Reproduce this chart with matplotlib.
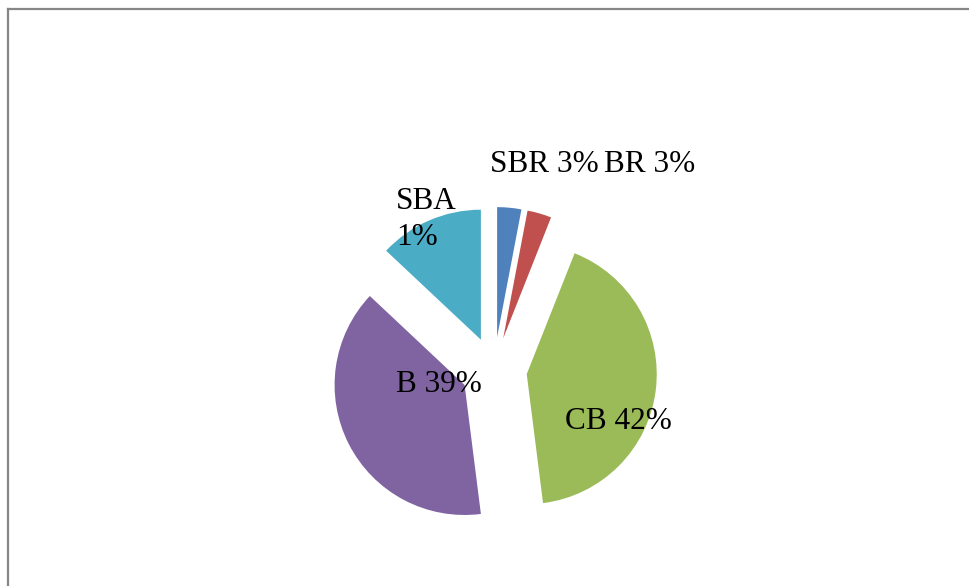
import matplotlib.pyplot as plt
from matplotlib.lines import Line2D

# --------------------
# Data
# --------------------
names = ["SBR", "BR", "CB", "B", "SBA"]
values = [3, 3, 42, 39, 13]
pct_labels = ["3%", "3%", "42%", "39%", "1%"]
colors = ["#4F81BD", "#C0504D", "#9BBB59", "#8064A2", "#4BACC6"]

W, H = 970, 586

fig = plt.figure(figsize=(W / 100, H / 100), dpi=100)
ax = fig.add_axes([0, 0, 1, 1])

# pie in pixel-like data coords (y measured from bottom)
# note: explode is an absolute offset in data units here
cx, cy, r = 494, H - 370, 130
ax.pie(values, colors=colors, startangle=90, counterclock=False,
       explode=[33] * len(values), center=(cx, cy), radius=r,
       wedgeprops=dict(linewidth=0))

ax.set_xlim(0, W)
ax.set_ylim(0, H)
ax.set_aspect("equal")
ax.axis("off")

# data labels (left x, baseline y in image pixels)
font = dict(family="Liberation Serif", fontsize=22.5, color="black",
            ha="left", va="baseline")
label_pos = {
    "SBR": (490, 172),
    "BR": (604, 172),
    "CB": (565, 429),
    "B": (396, 392),
}
for name, pct in zip(names, pct_labels):
    if name in label_pos:
        x, y = label_pos[name]
        ax.text(x, H - y, f"{name} {pct}", **font)
# SBA label wraps onto two lines
i = names.index("SBA")
ax.text(396, H - 209, names[i], **font)
ax.text(396, H - 245, pct_labels[i], **font)

# chart area border (only top and left edges visible)
fig.add_artist(Line2D([8 / W, 8 / W], [0, 1 - 9 / H], transform=fig.transFigure,
                      color="#868686", linewidth=1.6))
fig.add_artist(Line2D([8 / W, 1], [1 - 9 / H, 1 - 9 / H], transform=fig.transFigure,
                      color="#868686", linewidth=1.6))

fig.savefig("out.png", dpi=100)
